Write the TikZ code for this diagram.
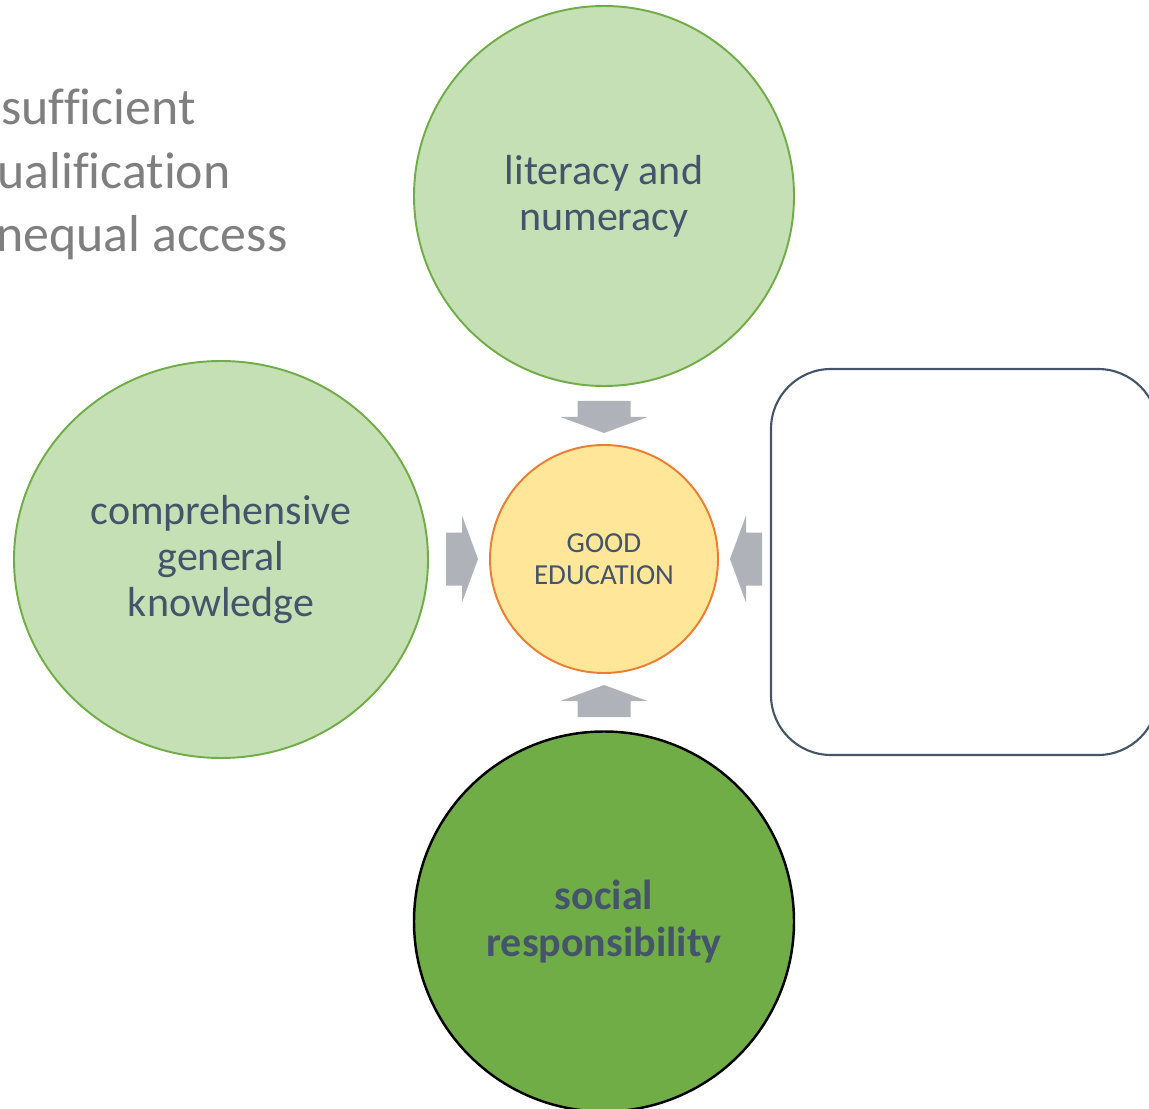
\documentclass[tikz,border=0pt]{standalone}
\usepackage{fontspec}
\setmainfont{Carlito}[Ligatures=NoCommon]
\usetikzlibrary{shapes.geometric}

\definecolor{leafgreen}{HTML}{C5E0B4}
\definecolor{grassgreen}{HTML}{70AD47}
\definecolor{paleyellow}{HTML}{FFE699}
\definecolor{rimorange}{HTML}{ED7D31}
\definecolor{slateblue}{HTML}{44546A}
\definecolor{arrowgray}{HTML}{AFB2B8}
\definecolor{notegray}{HTML}{7F7F7F}

\begin{document}
\begin{tikzpicture}[x=0.2mm, y=0.2mm]

    \tikzset{%
    every pillar/.style={
        circle,
        draw=grassgreen,
        fill=leafgreen,
        line width=1.1pt,
        minimum size=7.6cm,
        text=slateblue,
        align=center,
        font=\fontsize{23.9}{26.3}\selectfont
        },
    pillar strong/.style={
        fill=grassgreen,
        draw=black,
        line width=1.4pt,
        font=\fontsize{23.9}{26.3}\selectfont\bfseries
        },
    core/.style={
        circle,
        draw=rimorange,
        fill=paleyellow,
        line width=1.1pt,
        minimum size=4.56cm,
        text=slateblue,
        align=center,
        font=\fontsize{16.5}{18.3}\selectfont
        },
    blank box/.style={
        draw=slateblue,
        line width=1.2pt,
        rounded corners=1.2cm,
        minimum width=7.74cm,
        minimum height=7.72cm
        },
    }

    \useasboundingbox (0,0) rectangle (1149,-1109);
    \clip (0,0) rectangle (1149,-1109);

    % Notes at the top left, cut by the page edge
    \foreach \l/\x [count=\i] in {sufficient/1, ualification/-3, nequal access/-4}
    \node [anchor=base west, inner sep=0, text=notegray,
        font=\fontsize{29.5}{36}\selectfont] (note-\i) at (\x,-125-\i*63.5+63.5) {\l};

    % Centre circle
    \node [core] (edu) at (604,-559) {GOOD\\EDUCATION};

    % Pillars around the centre
    \node [every pillar] (top) at (604,-196) {literacy and\\numeracy};
    \node [every pillar, ellipse, minimum width=8.28cm, minimum height=7.94cm]
        (left) at (221,-559.5) {comprehensive\\general\\knowledge};
    \node [every pillar, pillar strong] (bottom) at (604,-921.5) {social\\responsibility};

    % Empty box on the right
    \node [blank box] (box) at (964.5,-562) {};

    % Block arrows pointing into the centre
    \foreach \a in {0,90,180,270}
    \fill [arrowgray, shift={(edu.center)}, rotate=\a]
        (0,126) -- (43.5,142) -- (26.5,142) -- (26.5,158)
        -- (-26.5,158) -- (-26.5,142) -- (-43.5,142) -- cycle;

\end{tikzpicture}
\end{document}
